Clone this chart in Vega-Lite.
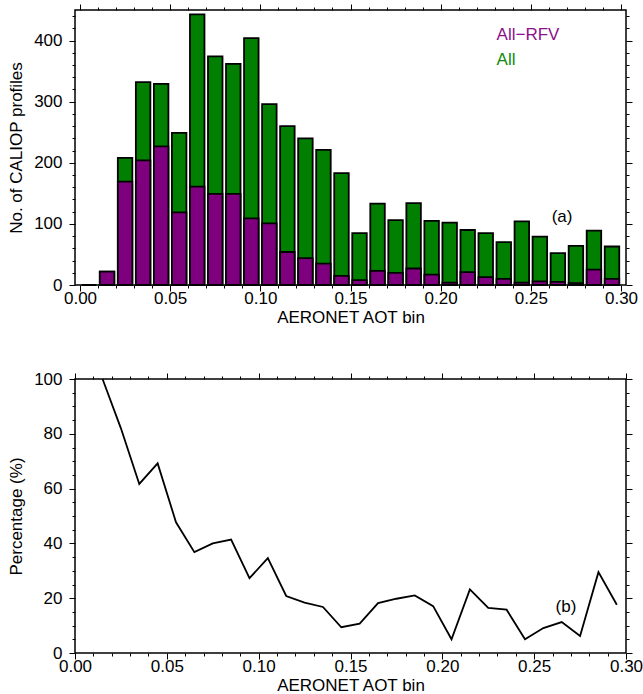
{
  "$schema": "https://vega.github.io/schema/vega-lite/v6.json",
  "padding": {"left": 6, "top": 2, "right": 0, "bottom": 0},
  "background": "white",
  "datasets": {
    "bins": [
      {"aot": 0.005, "all": 0, "rfv": 0, "pct": null},
      {"aot": 0.015, "all": 22, "rfv": 22, "pct": 100},
      {"aot": 0.025, "all": 208, "rfv": 169, "pct": 82},
      {"aot": 0.035, "all": 332, "rfv": 204, "pct": 61.7},
      {"aot": 0.045, "all": 329, "rfv": 227, "pct": 69.2},
      {"aot": 0.055, "all": 249, "rfv": 119, "pct": 47.7},
      {"aot": 0.065, "all": 443, "rfv": 161, "pct": 36.8},
      {"aot": 0.075, "all": 374, "rfv": 149, "pct": 40},
      {"aot": 0.085, "all": 362, "rfv": 149, "pct": 41.4},
      {"aot": 0.095, "all": 404, "rfv": 109, "pct": 27.3},
      {"aot": 0.105, "all": 296, "rfv": 101, "pct": 34.6},
      {"aot": 0.115, "all": 260, "rfv": 54, "pct": 20.8},
      {"aot": 0.125, "all": 240, "rfv": 44, "pct": 18.4},
      {"aot": 0.135, "all": 221, "rfv": 35, "pct": 16.8},
      {"aot": 0.145, "all": 183, "rfv": 15, "pct": 9.4},
      {"aot": 0.155, "all": 85, "rfv": 8, "pct": 10.7},
      {"aot": 0.165, "all": 133, "rfv": 23, "pct": 18.2},
      {"aot": 0.175, "all": 106, "rfv": 20, "pct": 19.8},
      {"aot": 0.185, "all": 134, "rfv": 27, "pct": 21},
      {"aot": 0.195, "all": 105, "rfv": 17, "pct": 17.1},
      {"aot": 0.205, "all": 102, "rfv": 4, "pct": 5},
      {"aot": 0.215, "all": 90, "rfv": 21, "pct": 23.2},
      {"aot": 0.225, "all": 85, "rfv": 13, "pct": 16.5},
      {"aot": 0.235, "all": 70, "rfv": 10, "pct": 15.8},
      {"aot": 0.245, "all": 104, "rfv": 4, "pct": 5},
      {"aot": 0.255, "all": 79, "rfv": 6, "pct": 9.1},
      {"aot": 0.265, "all": 52, "rfv": 5, "pct": 11.3},
      {"aot": 0.275, "all": 64, "rfv": 3, "pct": 6.2},
      {"aot": 0.285, "all": 89, "rfv": 25, "pct": 29.5},
      {"aot": 0.295, "all": 63, "rfv": 10, "pct": 17.6}
    ],
    "one": [{}]
  },
  "vconcat": [
    {
      "width": 551,
      "height": 275,
      "resolve": {"axis": {"x": "independent", "y": "independent"}},
      "layer": [
        {
          "data": {"name": "bins"},
          "mark": {"type": "bar", "width": 14.5, "fill": "#007f00", "stroke": "black", "strokeWidth": 1.8},
          "encoding": {
            "x": {"field": "aot", "type": "quantitative", "scale": {"domain": [0, 0.3], "nice": false},
              "axis": {"orient": "bottom", "values": [0, 0.05, 0.1, 0.15, 0.2, 0.25, 0.3], "format": ".2f", "tickSize": 6, "labelPadding": -1, "title": "AERONET AOT bin"}},
            "y": {"field": "all", "type": "quantitative", "scale": {"domain": [0, 450], "nice": false},
              "axis": {"orient": "left", "values": [0, 100, 200, 300, 400], "tickSize": 6, "labelPadding": 7, "title": "No. of CALIOP profiles"}}
          }
        },
        {
          "data": {"name": "bins"},
          "mark": {"type": "bar", "width": 14.5, "fill": "#7f007f", "stroke": "black", "strokeWidth": 1.8},
          "encoding": {
            "x": {"field": "aot", "type": "quantitative", "scale": {"domain": [0, 0.3], "nice": false},
              "axis": {"orient": "top", "values": [0, 0.05, 0.1, 0.15, 0.2, 0.25, 0.3], "labels": false, "tickSize": 6, "title": null}},
            "y": {"field": "rfv", "type": "quantitative", "scale": {"domain": [0, 450], "nice": false},
              "axis": {"orient": "right", "values": [0, 100, 200, 300, 400], "labels": false, "tickSize": 6, "title": null}}
          }
        },
        {
          "data": {"name": "one"},
          "mark": {"type": "text", "align": "left", "baseline": "middle", "color": "#8b118b", "fontSize": 17, "font": "Liberation Sans"},
          "encoding": {
            "text": {"value": "All−RFV"},
            "x": {"datum": 0.231, "type": "quantitative", "scale": {"domain": [0, 0.3], "nice": false},
              "axis": {"orient": "bottom", "values": [0.01, 0.02, 0.03, 0.04, 0.06, 0.07, 0.08, 0.09, 0.11, 0.12, 0.13, 0.14, 0.16, 0.17, 0.18, 0.19, 0.21, 0.22, 0.23, 0.24, 0.26, 0.27, 0.28, 0.29], "labels": false, "tickSize": 3, "title": null}},
            "y": {"datum": 409, "type": "quantitative", "scale": {"domain": [0, 450], "nice": false},
              "axis": {"orient": "left", "values": [20, 40, 60, 80, 120, 140, 160, 180, 220, 240, 260, 280, 320, 340, 360, 380, 420, 440], "labels": false, "tickSize": 3, "title": null}}
          }
        },
        {
          "data": {"name": "one"},
          "mark": {"type": "text", "align": "left", "baseline": "middle", "color": "#0d8a0d", "fontSize": 17, "font": "Liberation Sans"},
          "encoding": {
            "text": {"value": "All"},
            "x": {"datum": 0.231, "type": "quantitative", "scale": {"domain": [0, 0.3], "nice": false},
              "axis": {"orient": "top", "values": [0.01, 0.02, 0.03, 0.04, 0.06, 0.07, 0.08, 0.09, 0.11, 0.12, 0.13, 0.14, 0.16, 0.17, 0.18, 0.19, 0.21, 0.22, 0.23, 0.24, 0.26, 0.27, 0.28, 0.29], "labels": false, "tickSize": 3, "title": null}},
            "y": {"datum": 368, "type": "quantitative", "scale": {"domain": [0, 450], "nice": false},
              "axis": {"orient": "right", "values": [20, 40, 60, 80, 120, 140, 160, 180, 220, 240, 260, 280, 320, 340, 360, 380, 420, 440], "labels": false, "tickSize": 3, "title": null}}
          }
        },
        {
          "data": {"name": "one"},
          "mark": {"type": "text", "align": "center", "baseline": "middle", "color": "black", "fontSize": 17, "font": "Liberation Sans"},
          "encoding": {
            "text": {"value": "(a)"},
            "x": {"datum": 0.2673, "type": "quantitative", "scale": {"domain": [0, 0.3], "nice": false}, "axis": null},
            "y": {"datum": 112, "type": "quantitative", "scale": {"domain": [0, 450], "nice": false}, "axis": null}
          }
        }
      ]
    },
    {
      "width": 551,
      "height": 274,
      "resolve": {"axis": {"x": "independent", "y": "independent"}},
      "layer": [
        {
          "data": {"name": "bins"},
          "transform": [{"filter": "isValid(datum.pct)"}],
          "mark": {"type": "line", "color": "black", "strokeWidth": 1.8},
          "encoding": {
            "x": {"field": "aot", "type": "quantitative", "scale": {"domain": [0, 0.3], "nice": false},
              "axis": {"orient": "bottom", "values": [0, 0.05, 0.1, 0.15, 0.2, 0.25, 0.3], "format": ".2f", "tickSize": 6, "labelPadding": -1, "title": "AERONET AOT bin"}},
            "y": {"field": "pct", "type": "quantitative", "scale": {"domain": [0, 100], "nice": false},
              "axis": {"orient": "left", "values": [0, 20, 40, 60, 80, 100], "tickSize": 6, "labelPadding": 7, "title": "Percentage (%)"}}
          }
        },
        {
          "data": {"name": "one"},
          "mark": {"type": "text", "align": "center", "baseline": "middle", "color": "black", "fontSize": 17, "font": "Liberation Sans"},
          "encoding": {
            "text": {"value": "(b)"},
            "x": {"datum": 0.2673, "type": "quantitative", "scale": {"domain": [0, 0.3], "nice": false},
              "axis": {"orient": "top", "values": [0, 0.05, 0.1, 0.15, 0.2, 0.25, 0.3], "labels": false, "tickSize": 6, "title": null}},
            "y": {"datum": 16.8, "type": "quantitative", "scale": {"domain": [0, 100], "nice": false},
              "axis": {"orient": "right", "values": [0, 20, 40, 60, 80, 100], "labels": false, "tickSize": 6, "title": null}}
          }
        },
        {
          "data": {"name": "one"},
          "mark": {"type": "text"},
          "encoding": {
            "text": {"value": ""},
            "x": {"datum": 0.1, "type": "quantitative", "scale": {"domain": [0, 0.3], "nice": false},
              "axis": {"orient": "bottom", "values": [0.01, 0.02, 0.03, 0.04, 0.06, 0.07, 0.08, 0.09, 0.11, 0.12, 0.13, 0.14, 0.16, 0.17, 0.18, 0.19, 0.21, 0.22, 0.23, 0.24, 0.26, 0.27, 0.28, 0.29], "labels": false, "tickSize": 3, "title": null}},
            "y": {"datum": 50, "type": "quantitative", "scale": {"domain": [0, 100], "nice": false},
              "axis": {"orient": "left", "values": [5, 10, 15, 25, 30, 35, 45, 50, 55, 65, 70, 75, 85, 90, 95], "labels": false, "tickSize": 3, "title": null}}
          }
        },
        {
          "data": {"name": "one"},
          "mark": {"type": "text"},
          "encoding": {
            "text": {"value": ""},
            "x": {"datum": 0.1, "type": "quantitative", "scale": {"domain": [0, 0.3], "nice": false},
              "axis": {"orient": "top", "values": [0.01, 0.02, 0.03, 0.04, 0.06, 0.07, 0.08, 0.09, 0.11, 0.12, 0.13, 0.14, 0.16, 0.17, 0.18, 0.19, 0.21, 0.22, 0.23, 0.24, 0.26, 0.27, 0.28, 0.29], "labels": false, "tickSize": 3, "title": null}},
            "y": {"datum": 50, "type": "quantitative", "scale": {"domain": [0, 100], "nice": false},
              "axis": {"orient": "right", "values": [5, 10, 15, 25, 30, 35, 45, 50, 55, 65, 70, 75, 85, 90, 95], "labels": false, "tickSize": 3, "title": null}}
          }
        }
      ]
    }
  ],
  "spacing": 94,
  "bounds": "flush",
  "config": {
    "view": {"stroke": "black", "strokeWidth": 1.5},
    "axis": {
      "domain": false,
      "grid": false,
      "tickColor": "#000000",
      "tickWidth": 1,
      "labelFont": "Liberation Sans",
      "labelFontSize": 17,
      "labelColor": "black",
      "labelFlush": false,
      "labelOverlap": false,
      "labelBound": false,
      "titleFont": "Liberation Sans",
      "titleFontSize": 17,
      "titleFontWeight": "normal",
      "titleColor": "black",
      "titlePadding": 3
    },
    "axisLeft": {"titlePadding": 8}
  }
}
